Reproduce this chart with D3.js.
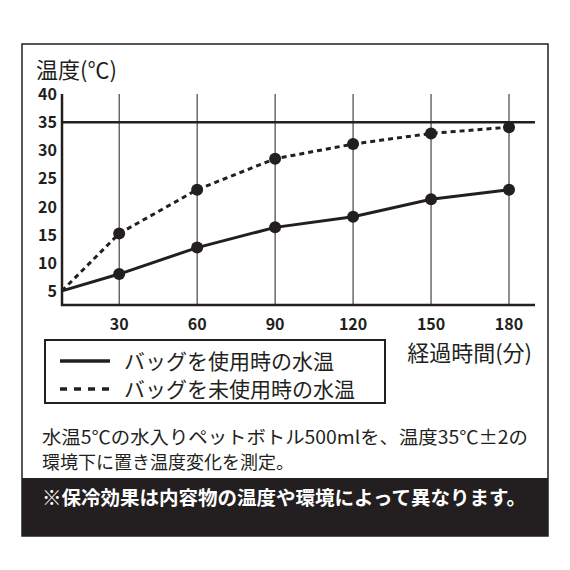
<!DOCTYPE html>
<html><head><meta charset="utf-8">
<script src="https://cdn.jsdelivr.net/npm/d3@7"></script>
<style>body{margin:0;background:#fff}text{font-family:"Noto Sans CJK JP","Noto Sans",sans-serif}</style>
</head><body><svg id="c" width="570" height="570"></svg>
<script>
const times = [8, 30, 60, 90, 120, 150, 180];
const withBag = [5, 8, 12.7, 16.3, 18.2, 21.3, 23];
const withoutBag = [5, 15.2, 23, 28.5, 31.1, 33, 34.1];
const xTicks = [30, 60, 90, 120, 150, 180];
const yTicks = [5, 10, 15, 20, 25, 30, 35, 40];
const legendLabels = ["バッグを使用時の水温", "バッグを未使用時の水温"];

const svg = d3.select("#c");
svg.append("rect").attr("x", 22).attr("y", 44).attr("width", 526).attr("height", 492)
  .attr("fill", "#fff").attr("stroke", "#231f20").attr("stroke-width", 1.5);

const x = d3.scaleLinear().domain([8, 190]).range([62, 535]);
const y = d3.scaleLinear().domain([2.5, 40]).range([305, 94]);

// grid
svg.selectAll(".vg").data(xTicks).join("line")
  .attr("x1", d => x(d)).attr("x2", d => x(d)).attr("y1", 94).attr("y2", 305)
  .attr("stroke", "#231f20").attr("stroke-width", 1);
svg.append("line").attr("x1", 62).attr("x2", 535).attr("y1", y(35)).attr("y2", y(35))
  .attr("stroke", "#231f20").attr("stroke-width", 2.5);

// axes
svg.append("line").attr("x1", 62).attr("x2", 62).attr("y1", 94).attr("y2", 306).attr("stroke", "#231f20").attr("stroke-width", 2.5);
svg.append("line").attr("x1", 61).attr("x2", 535).attr("y1", 305).attr("y2", 305).attr("stroke", "#231f20").attr("stroke-width", 2.5);

svg.selectAll(".yl").data(yTicks).join("text")
  .attr("x", 57).attr("y", d => y(d) + 6).attr("text-anchor", "end")
  .attr("font-size", 16).attr("font-weight", "bold").attr("fill", "#231f20").text(d => d);
svg.selectAll(".xl").data(xTicks).join("text")
  .attr("x", d => x(d)).attr("y", 330).attr("text-anchor", "middle")
  .attr("font-size", 16).attr("font-weight", "bold").attr("fill", "#231f20").text(d => d);
svg.append("text").attr("x", 36).attr("y", 78).attr("font-size", 22).attr("fill", "#231f20").text("温度(℃)");
svg.append("text").attr("x", 532).attr("y", 361).attr("text-anchor", "end").attr("font-size", 22).attr("fill", "#231f20").text("経過時間(分)");

const line = d3.line().x((d, i) => x(times[i])).y(d => y(d));
svg.append("path").datum(withBag).attr("d", line).attr("fill", "none")
  .attr("stroke", "#231f20").attr("stroke-width", 3);
svg.append("path").datum(withoutBag).attr("d", line).attr("fill", "none")
  .attr("stroke", "#231f20").attr("stroke-width", 3).attr("stroke-dasharray", "5,4");
[withBag, withoutBag].forEach(s => {
  svg.selectAll(null).data(s.slice(1)).join("circle")
    .attr("cx", (d, i) => x(times[i + 1])).attr("cy", d => y(d)).attr("r", 6).attr("fill", "#231f20");
});

// legend
svg.append("rect").attr("x", 45).attr("y", 340).attr("width", 340).attr("height", 63)
  .attr("fill", "none").attr("stroke", "#231f20").attr("stroke-width", 2);
legendLabels.forEach((t, i) => {
  const ly = 361 + i * 28;
  svg.append("line").attr("x1", 60).attr("x2", 110).attr("y1", ly).attr("y2", ly)
    .attr("stroke", "#231f20").attr("stroke-width", 3.5)
    .attr("stroke-dasharray", i ? "7,7" : null);
  svg.append("text").attr("x", 124).attr("y", ly + 8).attr("font-size", 21).attr("fill", "#231f20").text(t);
});

svg.append("text").attr("x", 42).attr("y", 444).attr("font-size", 18).attr("fill", "#231f20")
  .attr("textLength", 486).attr("lengthAdjust", "spacingAndGlyphs")
  .text("水温5℃の水入りペットボトル500mlを、温度35℃±2の");
svg.append("text").attr("x", 42).attr("y", 469).attr("font-size", 18).attr("fill", "#231f20")
  .text("環境下に置き温度変化を測定。");

svg.append("rect").attr("x", 22).attr("y", 478).attr("width", 526).attr("height", 58).attr("fill", "#231f20");
svg.append("text").attr("x", 284).attr("y", 505).attr("text-anchor", "middle").attr("font-size", 19.5)
  .attr("font-weight", "bold").attr("fill", "#fff").text("※保冷効果は内容物の温度や環境によって異なります。");
</script></body></html>
